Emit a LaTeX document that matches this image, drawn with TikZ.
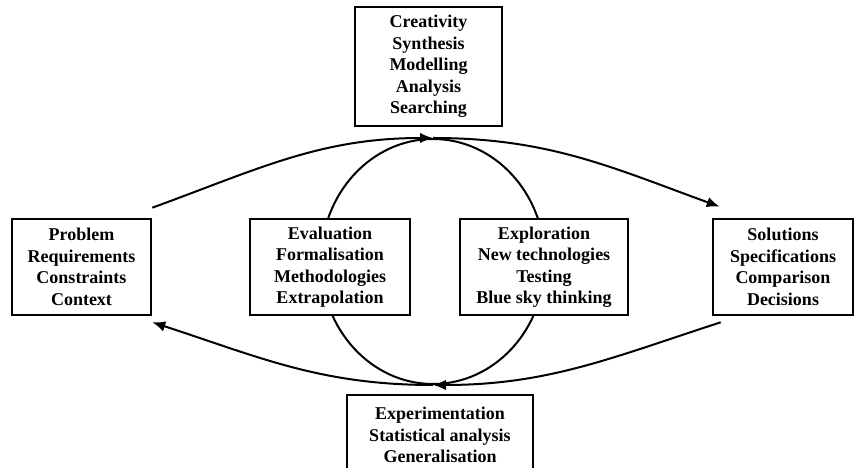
\documentclass[tikz,border=0pt]{standalone}
\usepackage{fontspec}
\setmainfont{Liberation Serif}
\usetikzlibrary{arrows.meta,positioning,calc,shapes.geometric}

\begin{document}
\begin{tikzpicture}[x=1pt,y=1pt,font=\bfseries\fontsize{18}{21.5}\selectfont,
              bx/.style={draw,line width=2.6pt,fill=white,align=center,inner sep=0pt,
              minimum height=96pt},
              flow/.style={line width=2pt,-{Latex[length=13pt,width=10.5pt]}}]
  \useasboundingbox (0,0) rectangle (857,468);
  % central loop, behind the boxes
  \node[draw,ellipse,line width=2pt,inner sep=0pt,minimum width=224pt,
        minimum height=245pt] (cyc) at (433,206.5) {};
  \node[bx,minimum width=139pt] (prob) at (81.5,201)
    {Problem\\Requirements\\Constraints\\Context};
  \node[bx,minimum width=160pt] (eval) at (330,201)
    {Evaluation\\Formalisation\\Methodologies\\Extrapolation};
  \node[bx,minimum width=168pt] (expl) at (544,201)
    {Exploration\\New technologies\\Testing\\Blue sky thinking};
  \node[bx,minimum width=140pt] (sol) at (783,201)
    {Solutions\\Specifications\\Comparison\\Decisions};
  \node[bx,minimum width=147pt,minimum height=119pt] (crea) at (428.5,401.5)
    {Creativity\\Synthesis\\Modelling\\Analysis\\Searching};
  \node[bx,minimum width=186pt,minimum height=80pt] (expe) at (440,33)
    {Experimentation\\Statistical analysis\\Generalisation};
  % ends of the outer arcs
  \coordinate (pa) at ($(prob.north east)+(0,10)$);
  \coordinate (pb) at ($(prob.south east)+(0,-6)$);
  \coordinate (sa) at ($(sol.north west)+(8,11)$);
  \coordinate (sb) at ($(sol.south west)+(9,-6)$);
  \draw[flow] (pa) to[out=20,in=180] (cyc.north);
  \draw[flow] (cyc.north) to[out=0,in=160] (sa);
  \draw[flow] (sb) to[out=198,in=0] (cyc.south);
  \draw[flow] (cyc.south) to[out=180,in=-18] (pb);
\end{tikzpicture}
\end{document}
